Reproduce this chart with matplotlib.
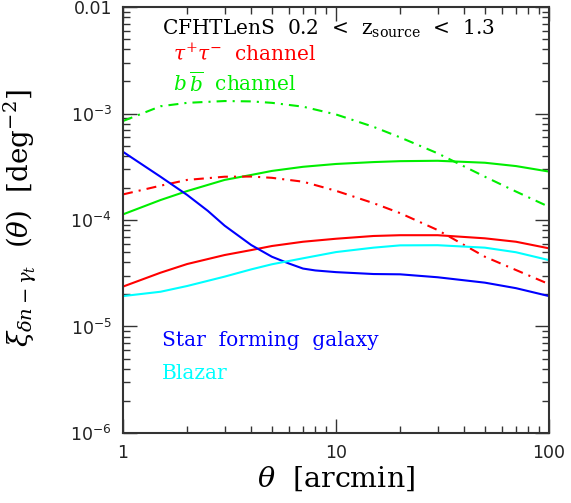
import numpy as np
import matplotlib
matplotlib.use("Agg")
import matplotlib.pyplot as plt
from matplotlib.ticker import LogLocator, FixedLocator, FixedFormatter, NullFormatter

plt.rcParams['font.family'] = ['DejaVu Serif']
plt.rcParams['mathtext.fontset'] = 'dejavuserif'

# -------------------------------------------------------------------
# data (theta in arcmin)
theta = [1, 1.5, 2, 3, 4, 5, 7, 10, 15, 20, 30, 50, 70, 100]

# b bbar channel
bb_dashdot = [8.5e-4, 1.17e-3, 1.26e-3, 1.31e-3, 1.30e-3, 1.26e-3, 1.16e-3,
              9.8e-4, 7.5e-4, 5.97e-4, 4.23e-4, 2.55e-4, 1.85e-4, 1.33e-4]
bb_solid = [1.13e-4, 1.54e-4, 1.87e-4, 2.38e-4, 2.65e-4, 2.89e-4, 3.16e-4,
            3.36e-4, 3.5e-4, 3.57e-4, 3.6e-4, 3.45e-4, 3.21e-4, 2.85e-4]

# tau+ tau- channel
tt_dashdot = [1.74e-4, 2.1e-4, 2.38e-4, 2.55e-4, 2.56e-4, 2.49e-4, 2.29e-4,
              1.88e-4, 1.44e-4, 1.16e-4, 8.05e-5, 4.52e-5, 3.39e-5, 2.5e-5]
tt_solid = [2.37e-5, 3.2e-5, 3.86e-5, 4.69e-5, 5.22e-5, 5.7e-5, 6.25e-5,
            6.67e-5, 7.08e-5, 7.2e-5, 7.2e-5, 6.73e-5, 6.25e-5, 5.42e-5]

# star forming galaxy (own grid, bends more) / blazar
theta_sfg = [1, 1.5, 2, 2.5, 3, 4, 5, 6, 7, 8, 10, 15, 20, 30, 50, 70, 100]
sfg = [4.37e-4, 2.55e-4, 1.72e-4, 1.22e-4, 8.85e-5, 5.82e-5, 4.52e-5, 3.91e-5,
       3.5e-5, 3.36e-5, 3.24e-5, 3.11e-5, 3.09e-5, 2.9e-5, 2.58e-5, 2.29e-5,
       1.93e-5]
blazar = [1.93e-5, 2.12e-5, 2.4e-5, 2.94e-5, 3.44e-5, 3.84e-5, 4.37e-5,
          5.0e-5, 5.5e-5, 5.78e-5, 5.8e-5, 5.5e-5, 4.98e-5, 4.2e-5]

red = '#ff0000'
green = '#00ee00'
blue = '#0000ff'
cyan = '#00ffff'
dd = (4.8, 2.9, 1.0, 2.9)

# -------------------------------------------------------------------
fig = plt.figure(figsize=(5.71, 5.03), dpi=100)
ax = fig.add_axes([0.2154, 0.1392, 0.9615 - 0.2154, 0.986 - 0.1392])

ax.plot(theta, bb_dashdot, color=green, lw=1.5, dashes=dd)
ax.plot(theta, bb_solid, color=green, lw=1.5)
ax.plot(theta, tt_dashdot, color=red, lw=1.5, dashes=dd)
ax.plot(theta, tt_solid, color=red, lw=1.5)
ax.plot(theta_sfg, sfg, color=blue, lw=1.5)
ax.plot(theta, blazar, color=cyan, lw=1.5)

ax.set_xscale('log')
ax.set_yscale('log')
ax.set_xlim(1, 100)
ax.set_ylim(1e-6, 1e-2)

# ticks: inward, all four sides
ax.tick_params(which='both', direction='in', top=True, right=True,
               color='#333333', width=1.0)
ax.tick_params(which='major', length=10, pad=8, labelsize=12.5)
ax.tick_params(which='minor', length=5)
ax.xaxis.set_major_locator(FixedLocator([1, 10, 100]))
ax.xaxis.set_major_formatter(FixedFormatter(['1', '10', '100']))
ax.xaxis.set_minor_locator(LogLocator(base=10, subs=np.arange(2, 10)))
ax.xaxis.set_minor_formatter(NullFormatter())
ax.yaxis.set_major_locator(FixedLocator([1e-6, 1e-5, 1e-4, 1e-3, 1e-2]))
ax.yaxis.set_major_formatter(FixedFormatter(
    [r'$\mathregular{10^{-6}}$', r'$\mathregular{10^{-5}}$',
     r'$\mathregular{10^{-4}}$', r'$\mathregular{10^{-3}}$', '0.01']))
ax.yaxis.set_minor_locator(LogLocator(base=10, subs=np.arange(2, 10)))
ax.yaxis.set_minor_formatter(NullFormatter())
for lab in ax.get_xticklabels() + ax.get_yticklabels():
    lab.set_family('DejaVu Sans')
    lab.set_color('#222222')

for sp in ax.spines.values():
    sp.set_linewidth(1.5)
    sp.set_color('#333333')

ax.set_xlabel(r'$\theta$  [arcmin]', fontsize=20.5, labelpad=2)
ax.set_ylabel(r'$\xi_{\delta n-\gamma_t}\ \ (\theta)\ \ [\mathrm{deg}^{-2}]$',
              fontsize=20)
ax.yaxis.set_label_coords(-0.198, 0.505)

# annotations
txt = dict(transform=ax.transAxes, fontsize=14.5, family='DejaVu Serif')
ax.text(0.092, 0.975, r'CFHTLenS  0.2  <  z$_{\mathrm{source}}$  <  1.3',
        va='top', ha='left', **txt)
ax.text(0.118, 0.915, r'$\tau^{+}\tau^{-}$  channel', color=red,
        va='top', ha='left', **txt)
ax.text(0.118, 0.85, r'$b\,\overline{b}$  channel', color=green,
        va='top', ha='left', **txt)
ax.text(0.092, 0.218, 'Star  forming  galaxy', color=blue,
        va='center', ha='left', **txt)
ax.text(0.092, 0.14, 'Blazar', color=cyan,
        va='center', ha='left', **txt)

fig.savefig('out.png', dpi=100)
